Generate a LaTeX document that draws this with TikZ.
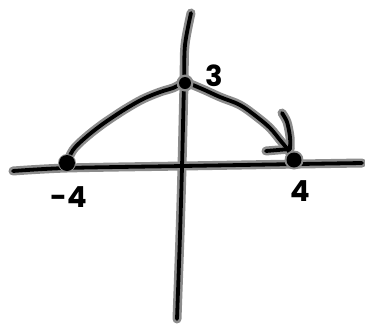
\documentclass[tikz,border=0pt]{standalone}
\usepackage{fontspec}
\setmainfont{Poppins}
\colorlet{halo}{black!45}
\tikzset{
  halopass/.style={draw=halo, line width=9pt, line cap=round, line join=round},
  inkpass/.style={draw=black, line width=3.8pt, line cap=round, line join=round},
  dotink/.style={circle, fill=black, inner sep=0pt, minimum width=13pt, minimum height=14pt},
  numlabel/.style={inner sep=0pt, font=\fontsize{29}{29}\selectfont\bfseries}
}
\begin{document}
\begin{tikzpicture}[x=1pt,y=-1pt]
\useasboundingbox (0,0) rectangle (365,325);
% key points
\coordinate (hl) at (13,171);
\coordinate (hr) at (362,163);
\coordinate (vt) at (191,13);
\coordinate (vb) at (177,319);
\coordinate (m4) at (67,163);
\coordinate (t3) at (185,83);
\coordinate (p4) at (294,160);
\coordinate (tip) at (290,149);
\coordinate (armA) at (282,113);
\coordinate (armB) at (266,151);
% halo then ink
\foreach \st in {halopass,inkpass}{
  \draw[\st] plot[smooth] coordinates {(hl) (67,168) (183,166) (300,164) (hr)};
  \draw[\st] plot[smooth] coordinates {(vt) (185,45) (184,83) (182,167) (180,235) (vb)};
  \draw[\st] plot[smooth, tension=0.6] coordinates {(m4) (73,150) (85,138) (100,126) (113,117) (127,108) (143,99) (160,92) (173,88) (t3) (200,88) (220,97) (240,105) (257,117) (270,128) (280,140) (288,150) (p4)};
  \draw[\st] plot[smooth] coordinates {(armA) (287,122) (290,137) (tip)};
  \draw[\st] (armB) -- (tip);
}
\foreach \p/\s in {m4/13,t3/12,p4/14}{
  \fill[halo] (\p) circle ({\s/2+2.5});
}
\node[dotink, minimum height=16pt] (dm4) at (m4) {};
\node[dotink, minimum width=12pt, minimum height=11pt] (dt3) at (t3) {};
\node[dotink, minimum width=15pt, minimum height=13pt] (dp4) at (p4) {};
% labels
\node[numlabel] (l3) at (214,76) {3};
\node[numlabel] (lm4) at (69,197) {-4};
\node[numlabel] (lp4) at (300,191) {4};
\end{tikzpicture}
\end{document}
